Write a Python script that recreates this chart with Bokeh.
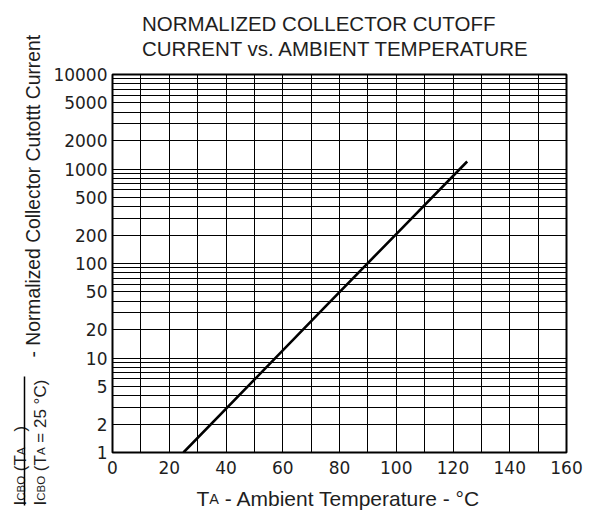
import math
from bokeh.plotting import figure
from bokeh.layouts import row, column
from bokeh.models import FixedTicker, NumeralTickFormatter
from bokeh.core.properties import value
from bokeh.embed import file_html
from bokeh.resources import INLINE

# ---- data ----
temperature_c = [25, 50, 75, 100, 125]
icbo_ratio = [1, 5.9, 35, 205, 1200]

x_tick_values = [0, 20, 40, 60, 80, 100, 120, 140, 160]
x_grid_values = [0, 10, 20, 30, 40, 50, 60, 70, 80, 90, 100, 110, 120, 130, 140, 150, 160]
y_tick_values = [1, 2, 5, 10, 20, 50, 100, 200, 500, 1000, 2000, 5000, 10000]
y_grid_mantissas = [1, 2, 3, 4, 5, 6, 7, 8, 9]
y_grid_decades = [1, 10, 100, 1000]
title_lines = ["NORMALIZED COLLECTOR CUTOFF", "CURRENT vs. AMBIENT TEMPERATURE"]
x_label_parts = [("T", 21), ("A", 14.5), (" - Ambient Temperature - °C", 21)]
y_num_parts = [("I", 17), ("CBO", 11.5), (" (T", 17), ("A", 11.5), (")", 17)]
y_den_parts = [("I", 17), ("CBO", 11.5), (" (T", 17), ("A", 11.5), (" = 25 °C)", 17)]
y_label_tail = "- Normalized Collector Cutottt Current"

y_grid_values = [m * d for d in y_grid_decades for m in y_grid_mantissas] + [10000]

TXT = "#1e1e1e"
FONT = "Liberation Sans"

# ---- layout geometry (picture pixels) ----
W, H = 596, 513
LEFT_W = 50            # strip holding the rotated y label
TITLE_H = 56           # strip holding the title
F_LEFT, F_TOP, F_W, F_H = 112, 74, 454, 378
MAIN_BORDER_BOTTOM = 30
MAIN_BORDER_TOP = F_TOP - TITLE_H
MAIN_BORDER_LEFT = F_LEFT - LEFT_W
MAIN_BORDER_RIGHT = W - F_LEFT - F_W
XLAB_H = H - TITLE_H - (MAIN_BORDER_TOP + F_H + MAIN_BORDER_BOTTOM)
RIGHT_W = W - LEFT_W

# ---- main chart ----
p = figure(frame_width=F_W, frame_height=F_H,
           min_border_left=MAIN_BORDER_LEFT, min_border_right=MAIN_BORDER_RIGHT,
           min_border_top=MAIN_BORDER_TOP, min_border_bottom=MAIN_BORDER_BOTTOM,
           x_range=(0, 160), y_range=(1, 10000), y_axis_type="log",
           output_backend="svg", toolbar_location=None, frame_align=False,
           background_fill_color="white", border_fill_color="white")

p.line(temperature_c, icbo_ratio, line_color="black", line_width=2.6)

p.xaxis.ticker = FixedTicker(ticks=x_tick_values)
p.yaxis.ticker = FixedTicker(ticks=y_tick_values)
p.yaxis.formatter = NumeralTickFormatter(format="0")
p.xgrid.ticker = FixedTicker(ticks=x_grid_values)
p.ygrid.ticker = FixedTicker(ticks=y_grid_values)
p.grid.grid_line_color = "black"
p.grid.grid_line_alpha = 1.0
p.grid.grid_line_width = 1

for ax in (p.xaxis, p.yaxis):
    ax.axis_line_color = None
    ax.major_tick_out = 0
    ax.major_tick_in = 0
    ax.minor_tick_out = 0
    ax.minor_tick_in = 0
    ax.major_label_text_font = "DejaVu Sans"
    ax.major_label_text_font_size = "17px"
    ax.major_label_text_color = TXT
p.xaxis.major_label_standoff = 8
p.yaxis.major_label_standoff = 5

p.outline_line_color = "black"
p.outline_line_width = 2
p.outline_line_alpha = 1


def aux_fig(w, h):
    f = figure(width=w, height=h, x_range=(0, w), y_range=(0, h),
               min_border=0, min_border_left=0, min_border_right=0,
               min_border_top=0, min_border_bottom=0,
               x_axis_location=None, y_axis_location=None,
               toolbar_location=None, output_backend="svg", frame_align=False,
               background_fill_color="white", border_fill_color="white")
    f.grid.grid_line_color = None
    f.outline_line_color = None
    return f


ARIAL = {' ': 278, '(': 333, ')': 333, '=': 584, '-': 333, '°': 400, '2': 556,
         '5': 556, 'A': 667, 'B': 667, 'C': 722, 'I': 278, 'O': 778, 'T': 611}


def width(text, size):
    return sum(ARIAL.get(c, 556) for c in text) * size / 1000.0


def put(f, text, x, y, size, angle=0.0):
    # SVG collapses leading blanks, so advance past them explicitly
    lead = len(text) - len(text.lstrip(" "))
    adv = width(" " * lead, size)
    x = x + adv * math.cos(angle)
    y = y + adv * math.sin(angle)
    f.text(x=[x], y=[y], text=[text.lstrip(" ")], text_font=value(FONT),
           text_font_size=value(f"{size}px"), text_color=TXT,
           text_align="left", text_baseline="alphabetic", angle=angle)


# ---- title strip ----
tf = aux_fig(RIGHT_W, TITLE_H)
put(tf, title_lines[0], 141.5 - LEFT_W, TITLE_H - 22.7, 20.5)
put(tf, title_lines[1], 141.5 - LEFT_W, TITLE_H - 47.7, 20.5)

# ---- x label strip ----
xf = aux_fig(RIGHT_W, XLAB_H)
xb = H - 498
cx = 196 - LEFT_W
for t, s in x_label_parts:
    put(xf, t, cx, xb, s)
    cx += width(t, s)

# ---- y label strip ----
lf = aux_fig(LEFT_W, H)
ang = math.pi / 2
cy = H - 505
for t, s in y_num_parts:
    if t == ")":
        cy = H - 431
    put(lf, t, 20, cy, s, ang)
    cy += width(t, s)
cy = H - 505
for t, s in y_den_parts:
    put(lf, t, 40, cy, s, ang)
    cy += width(t, s)
lf.segment(x0=[24], y0=[H - 505], x1=[24], y1=[H - 376],
           line_color="black", line_width=1.5)
put(lf, y_label_tail, 33, H - 357, 19.3, ang)

layout = row(lf, column(tf, p, xf))
open("out.html", "w").write(file_html(layout, INLINE))
